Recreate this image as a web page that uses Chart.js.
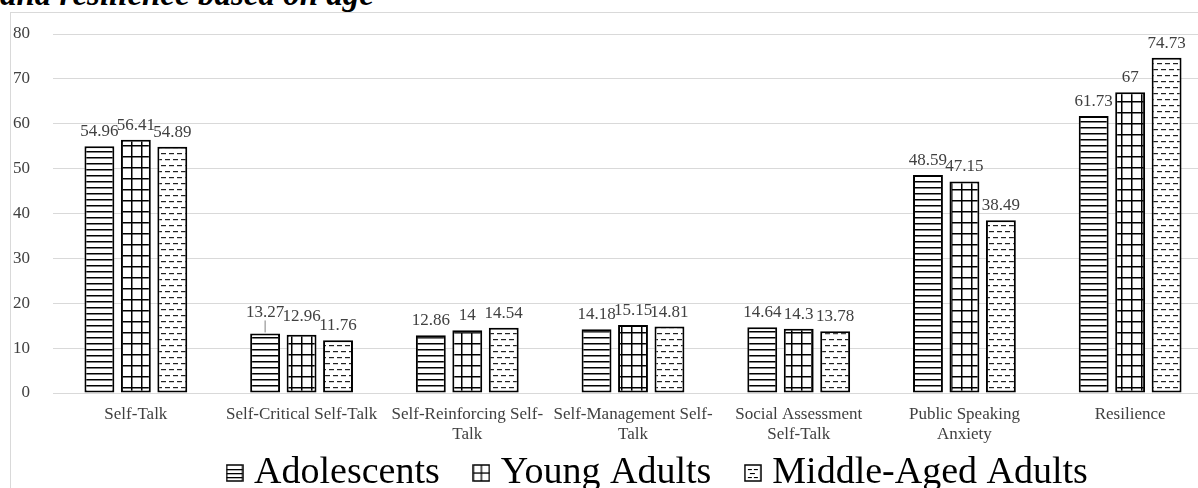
<!DOCTYPE html>
<html>
<head>
<meta charset="utf-8">
<script src="https://cdn.jsdelivr.net/npm/chart.js@4/dist/chart.umd.min.js"></script>
<style>
  html, body { margin: 0; padding: 0; background: #fff; overflow: hidden; width: 1198px; height: 488px; }
  #naslov {
    position: absolute; left: 0; top: -22px; margin: 0;
    font: italic bold 33px "Liberation Serif", serif; line-height: 33px; color: #000; white-space: nowrap;
  }
  #okvir {
    position: absolute; left: 10px; top: 12px;
    border-left: 1px solid #d9d9d9; border-top: 1px solid #d9d9d9;
  }
</style>
</head>
<body>
<div id="naslov">and resilience based on age</div>
<div id="okvir"><canvas id="grafikon" width="1300" height="521"></canvas></div>
<script>
// kategorije i vrednosti
const kategorije = ['Self-Talk', 'Self-Critical Self-Talk', ['Self-Reinforcing Self-', 'Talk'],
    ['Self-Management Self-', 'Talk'], ['Social Assessment', 'Self-Talk'], ['Public Speaking', 'Anxiety'], 'Resilience'];
const adolescenti = [54.96, 13.27, 12.86, 14.18, 14.64, 48.59, 61.73];
const mladiOdrasli = [56.41, 12.96, 14, 15.15, 14.3, 47.15, 67];
const srednjeDoba = [54.89, 11.76, 14.54, 14.81, 13.78, 38.49, 74.73];
const yTikovi = [0, 10, 20, 30, 40, 50, 60, 70, 80];

// mali canvas sa crtezom
function platno(w, h, crtaj) {
    const c = document.createElement('canvas');
    c.width = w; c.height = h;
    const g = c.getContext('2d');
    g.fillStyle = '#fff';
    g.fillRect(0, 0, w, h);
    crtaj(g);
    return c;
}
const sara = (c) => document.createElement('canvas').getContext('2d').createPattern(c, 'repeat');

// sare za sipke
const saraHoriz = sara(platno(8, 6, g => {
    g.fillStyle = '#000';
    g.fillRect(0, 0, 8, 1.5);
}));
const saraMreza = sara(platno(10, 11, g => {
    g.fillStyle = '#000';
    g.fillRect(0, 0, 10, 1.5);
    g.fillRect(0, 0, 1.5, 11);
}));
const saraCrtice = sara(platno(16, 12, g => {
    g.fillStyle = '#222';
    g.fillRect(2, 2, 5, 1.2);
    g.fillRect(10, 2, 5, 1.2);
    g.fillRect(6, 8, 5, 1.2);
    g.fillRect(14, 8, 2, 1.2);
    g.fillRect(0, 8, 3, 1.2);
}));

// ikone za legendu
function ikona(crtaj) {
    return platno(18, 18, g => {
        g.fillStyle = '#000';
        crtaj(g);
        g.strokeStyle = '#000';
        g.lineWidth = 1.5;
        g.strokeRect(1, 1, 16, 16);
    });
}
const ikone = [
    ikona(g => { g.fillRect(1, 5, 16, 1.3); g.fillRect(1, 9, 16, 1.3); g.fillRect(1, 13, 16, 1.3); }),
    ikona(g => { g.fillRect(1, 8.4, 16, 1.3); g.fillRect(8.4, 1, 1.3, 16); }),
    ikona(g => { g.fillRect(4, 5, 4, 1.1); g.fillRect(10, 5, 4, 1.1); g.fillRect(6, 9, 5, 1.1); g.fillRect(4, 13, 4, 1.1); g.fillRect(10, 13, 4, 1.1); })
];

// plugin za vrednosti iznad sipki
const oznakeVrednosti = {
    id: 'oznakeVrednosti',
    afterDatasetsDraw(chart) {
        const ctx = chart.ctx;
        ctx.save();
        ctx.font = '17px "Liberation Serif", serif';
        ctx.fillStyle = '#404040';
        ctx.textAlign = 'center';
        ctx.textBaseline = 'bottom';
        chart.data.datasets.forEach((ds, di) => {
            chart.getDatasetMeta(di).data.forEach((bar, i) => {
                let y = bar.y - 6;
                if (di === 0 && i === 1) {
                    // podignuta oznaka sa linijom
                    ctx.strokeStyle = '#808080';
                    ctx.lineWidth = 1;
                    ctx.beginPath();
                    ctx.moveTo(bar.x, bar.y - 1);
                    ctx.lineTo(bar.x, bar.y - 13);
                    ctx.stroke();
                    y = bar.y - 12;
                } else if (di === 1 && i === 1) {
                    y = bar.y - 10;
                }
                ctx.fillText(String(ds.data[i]), bar.x, y);
            });
        });
        ctx.restore();
    }
};

// pomeri legendu navise (preklapa se sa prostorom oznaka x ose)
const pomeriLegendu = {
    id: 'pomeriLegendu',
    afterLayout(chart) {
        const l = chart.legend;
        const h = l.bottom - l.top;
        l.top = 400;
        l.bottom = 400 + h;
    }
};

const font = (size) => ({ family: '"Liberation Serif", serif', size: size });

new Chart(document.getElementById('grafikon'), {
    type: 'bar',
    data: {
        labels: kategorije,
        datasets: [
            { label: 'Adolescents', data: adolescenti, backgroundColor: saraHoriz },
            { label: 'Young Adults', data: mladiOdrasli, backgroundColor: saraMreza },
            { label: 'Middle-Aged Adults', data: srednjeDoba, backgroundColor: saraCrtice }
        ].map(d => Object.assign(d, {
            borderColor: '#000',
            borderWidth: 2,
            borderSkipped: false,
            categoryPercentage: 0.66,
            barPercentage: 0.82
        }))
    },
    options: {
        responsive: false,
        animation: false,
        layout: { padding: { top: 21, left: 0, right: 0, bottom: 0 } },
        plugins: {
            tooltip: { enabled: false },
            legend: {
                position: 'bottom',
                labels: {
                    font: font(38),
                    color: '#000',
                    usePointStyle: true,
                    boxWidth: 1,
                    boxHeight: 17,
                    padding: 41,
                    generateLabels(chart) {
                        const stavke = Chart.defaults.plugins.legend.labels.generateLabels(chart);
                        stavke.forEach((s, i) => { s.pointStyle = ikone[i]; });
                        return stavke;
                    }
                }
            }
        },
        scales: {
            x: {
                grid: { display: false, drawTicks: false },
                border: { color: '#d9d9d9', width: 1 },
                ticks: {
                    font: font(17),
                    color: '#404040',
                    maxRotation: 0,
                    autoSkip: false,
                    padding: 11
                },
                afterFit(s) { s.height = 52; }
            },
            y: {
                min: 0,
                max: 80,
                afterBuildTicks(s) { s.ticks = yTikovi.map(v => ({ value: v })); },
                grid: { color: '#d9d9d9', tickLength: 21, tickColor: 'rgba(0,0,0,0)' },
                border: { display: false },
                ticks: {
                    font: font(17),
                    color: '#404040',
                    padding: 2
                },
                afterFit(s) { s.width = 42; }
            },
            desno: {
                position: 'right',
                grid: { display: false },
                border: { display: false },
                ticks: { display: false },
                afterFit(s) { s.width = 98; }
            }
        }
    },
    plugins: [oznakeVrednosti, pomeriLegendu]
});
</script>
</body>
</html>
